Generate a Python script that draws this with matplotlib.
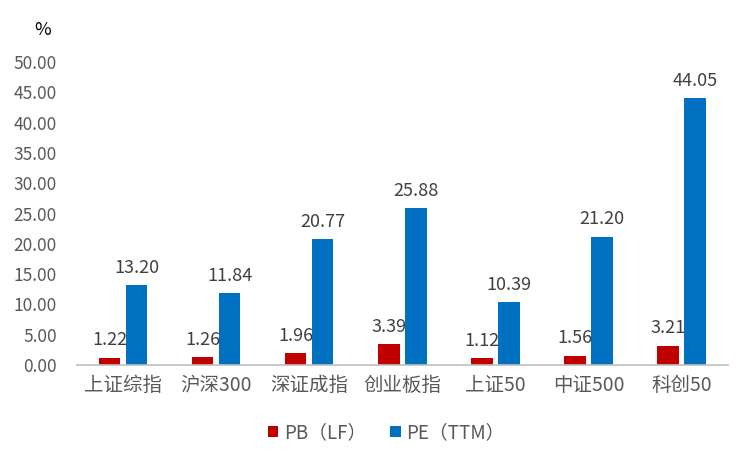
import matplotlib.pyplot as plt
import numpy as np

plt.rcParams['font.family'] = ['Noto Sans CJK SC', 'DejaVu Sans']

categories = ['上证综指', '沪深300', '深证成指', '创业板指', '上证50', '中证500', '科创50']
pb = [1.22, 1.26, 1.96, 3.39, 1.12, 1.56, 3.21]
pe = [13.20, 11.84, 20.77, 25.88, 10.39, 21.20, 44.05]
yticks = np.arange(0, 50.01, 5)

red, blue = '#C00000', '#0070C0'
text_color = '#595959'

fig = plt.figure(figsize=(7.5, 4.63), dpi=100)
ax = fig.add_axes([0.102, 0.2117, 0.869, 0.6543])

x = np.arange(len(categories))
w = 0.23
off = 0.145
b1 = ax.bar(x - off, pb, w, color=red, label='PB（LF）')
b2 = ax.bar(x + off, pe, w, color=blue, label='PE（TTM）')

for bars, vals in ((b1, pb), (b2, pe)):
    for bar, v in zip(bars, vals):
        ax.annotate(f'{v:.2f}', xy=(bar.get_x() + bar.get_width() / 2, v),
                    xytext=(0, 6), textcoords='offset points',
                    ha='center', va='bottom', fontsize=13, color='#404040')

ax.set_xlim(-0.5, len(categories) - 0.5)
ax.set_ylim(0, 50)
ax.set_yticks(yticks)
ax.set_yticklabels([f'{t:.2f}' for t in yticks], fontsize=12.5, color=text_color)
ax.set_xticks(x)
ax.set_xticklabels(categories, fontsize=14, color=text_color)
ax.tick_params(axis='y', length=0, pad=14)
ax.tick_params(axis='x', length=0, pad=7)
for s in ('top', 'right', 'left'):
    ax.spines[s].set_visible(False)
ax.spines['bottom'].set_color('#BFBFBF')
ax.spines['bottom'].set_linewidth(1.2)

fig.text(0.057, 0.935, '%', fontsize=13, ha='center', va='center', color='black')

fig.legend(loc='center', bbox_to_anchor=(0.515, 0.065), ncol=2, frameon=False,
           fontsize=13.5, handlelength=0.55, handleheight=0.55, handletextpad=0.3,
           columnspacing=1.3, labelcolor=text_color)

fig.savefig('out.png', dpi=100)
